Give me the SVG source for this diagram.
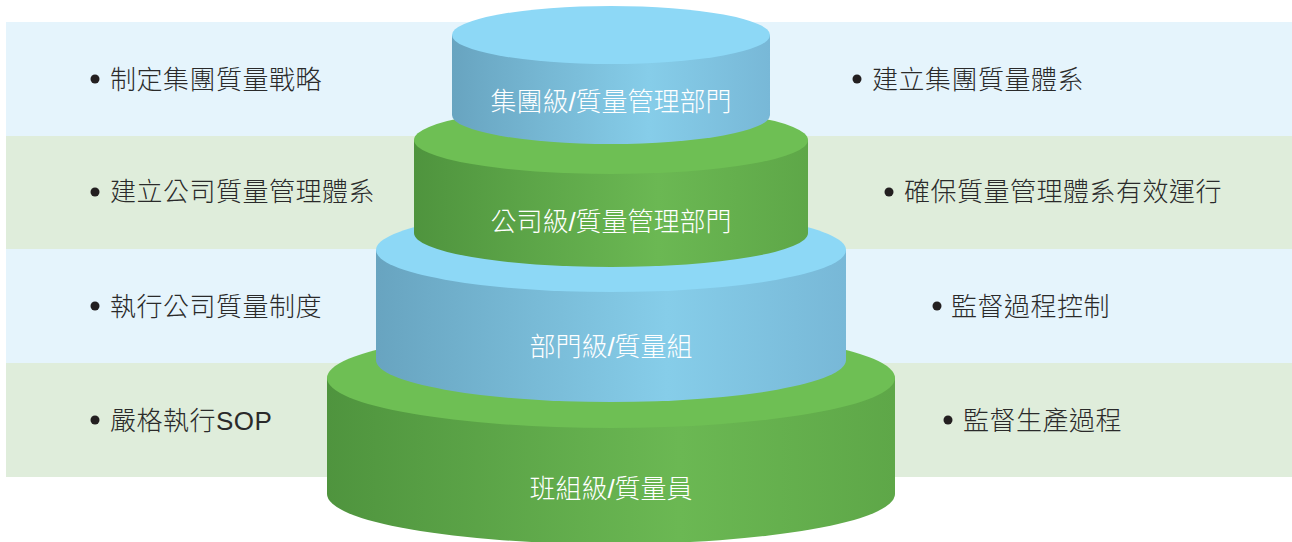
<svg xmlns="http://www.w3.org/2000/svg" width="1292" height="542" viewBox="0 0 1292 542">
<defs>
<linearGradient id="gBlueSide" x1="0" y1="0" x2="1" y2="0">
<stop offset="0" stop-color="#68a4c0"/>
<stop offset="0.62" stop-color="#86cde9"/>
<stop offset="1" stop-color="#78b8d7"/>
</linearGradient>
<linearGradient id="gGreenSide" x1="0" y1="0" x2="1" y2="0">
<stop offset="0" stop-color="#4f943e"/>
<stop offset="0.62" stop-color="#6bb853"/>
<stop offset="1" stop-color="#5ea748"/>
</linearGradient>
<style>
.bandB{fill:#e5f4fc}
.bandG{fill:#dfeddb}
.topB{fill:#8dd8f6}
.topG{fill:#6ebf54}
.sideB{fill:url(#gBlueSide)}
.sideG{fill:url(#gGreenSide)}
.lbl{font-family:"Liberation Sans","Noto Sans CJK TC",sans-serif;font-size:26px;font-weight:300;fill:#ffffff;text-anchor:middle}
.txt{font-family:"Liberation Sans","Noto Sans CJK TC",sans-serif;font-size:26px;font-weight:300;letter-spacing:0.5px;fill:#2a2a2a}
.dot{fill:#231f20}
</style>
</defs>
<rect width="1292" height="542" fill="#ffffff"/>
<g id="bands">
<rect class="bandB" x="6" y="22" width="1286" height="114"/>
<rect class="bandG" x="6" y="136" width="1286" height="113"/>
<rect class="bandB" x="6" y="249" width="1286" height="114"/>
<rect class="bandG" x="6" y="363" width="1286" height="114"/>
</g>
<g id="tier4">
<path class="sideG" d="M327,378 L327,494 A284,50 0 0 0 895,494 L895,378 Z"/>
<ellipse class="topG" cx="611" cy="378" rx="284" ry="50"/>
<text class="lbl" x="611" y="498">班組級/質量員</text>
</g>
<g id="tier3">
<path class="sideB" d="M376,250 L376,360 A235,42 0 0 0 846,360 L846,250 Z"/>
<ellipse class="topB" cx="611" cy="250" rx="235" ry="42"/>
<text class="lbl" x="611" y="356">部門級/質量組</text>
</g>
<g id="tier2">
<path class="sideG" d="M414,140 L414,233 A197,34 0 0 0 808,233 L808,140 Z"/>
<ellipse class="topG" cx="611" cy="140" rx="197" ry="34"/>
<text class="lbl" x="611" y="231">公司級/質量管理部門</text>
</g>
<g id="tier1">
<path class="sideB" d="M452,35 L452,115 A159,29 0 0 0 770,115 L770,35 Z"/>
<ellipse class="topB" cx="611" cy="35" rx="159" ry="29"/>
<text class="lbl" x="611" y="111">集團級/質量管理部門</text>
</g>
<g id="left-notes">
<g id="l1"><circle class="dot" cx="95" cy="79" r="4.5"/><text class="txt" x="110" y="89">制定集團質量戰略</text></g>
<g id="l2"><circle class="dot" cx="95" cy="192" r="4.5"/><text class="txt" x="110" y="201">建立公司質量管理體系</text></g>
<g id="l3"><circle class="dot" cx="95" cy="306" r="4.5"/><text class="txt" x="110" y="316">執行公司質量制度</text></g>
<g id="l4"><circle class="dot" cx="95" cy="420" r="4.5"/><text class="txt" x="110" y="430">嚴格執行SOP</text></g>
</g>
<g id="right-notes">
<g id="r1"><circle class="dot" cx="857" cy="79" r="4.5"/><text class="txt" x="872" y="89">建立集團質量體系</text></g>
<g id="r2"><circle class="dot" cx="889" cy="192" r="4.5"/><text class="txt" x="904" y="201">確保質量管理體系有效運行</text></g>
<g id="r3"><circle class="dot" cx="937" cy="306" r="4.5"/><text class="txt" x="951" y="316">監督過程控制</text></g>
<g id="r4"><circle class="dot" cx="948" cy="420" r="4.5"/><text class="txt" x="963" y="430">監督生產過程</text></g>
</g>
<g id="connectors"/>
</svg>
